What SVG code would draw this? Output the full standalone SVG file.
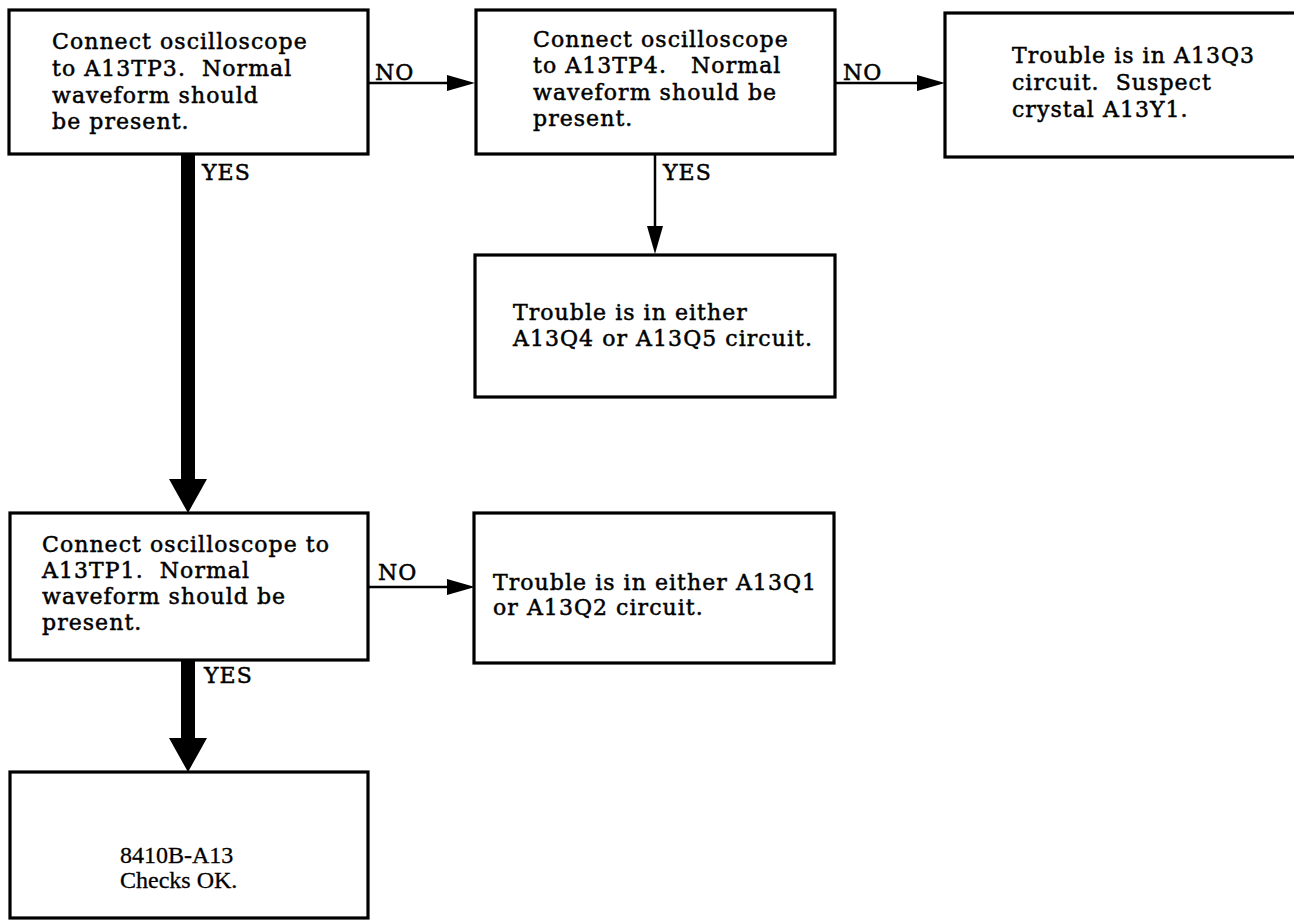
<svg xmlns="http://www.w3.org/2000/svg" width="1294" height="921" viewBox="0 0 1294 921">
<style>
.box{fill:#fff;stroke:#000;stroke-width:3.2}
.t{font-family:"DejaVu Serif","Liberation Serif",serif;font-size:22px;letter-spacing:1.05px;fill:#000;stroke:#000;stroke-width:0.5;white-space:pre}
.t2{font-family:"Liberation Serif","Times New Roman",serif;font-size:24px;fill:#000;stroke:#000;stroke-width:0.3}
.thin{stroke:#000;stroke-width:2.5;fill:none}
.thick{stroke:#000;stroke-width:14;fill:none}
.head{fill:#000}
</style>
<defs>
<marker id="ah" markerUnits="userSpaceOnUse" viewBox="0 0 28 16" refX="0" refY="8" markerWidth="28" markerHeight="16" orient="auto"><path class="head" d="M0,0 L28,8 L0,16 Z"/></marker>
<marker id="ahT" markerUnits="userSpaceOnUse" viewBox="0 0 34 38" refX="0" refY="19" markerWidth="34" markerHeight="38" orient="auto"><path class="head" d="M0,0 L34,19 L0,38 Z"/></marker>
</defs>
<g id="connectors">
<path class="thin" d="M368,83 H447" marker-end="url(#ah)"/>
<path class="thin" d="M835,83 H917" marker-end="url(#ah)"/>
<path class="thin" d="M655,154 V226" marker-end="url(#ah)"/>
<path class="thick" d="M188,154 V479" marker-end="url(#ahT)"/>
<path class="thin" d="M368,587 H447" marker-end="url(#ah)"/>
<path class="thick" d="M188,660 V738" marker-end="url(#ahT)"/>
<text class="t" x="375" y="80">NO</text>
<text class="t" x="843" y="80">NO</text>
<text class="t" x="202" y="180">YES</text>
<text class="t" x="663" y="180">YES</text>
<text class="t" x="378" y="580">NO</text>
<text class="t" x="204" y="683">YES</text>
</g>
<g id="n1">
<rect class="box" x="9" y="10" width="359" height="144"/>
<text class="t" x="52" y="49">Connect oscilloscope</text>
<text class="t" x="52" y="76">to A13TP3.  Normal</text>
<text class="t" x="52" y="103">waveform should</text>
<text class="t" x="52" y="129">be present.</text>
</g>
<g id="n2">
<rect class="box" x="476" y="10" width="359" height="144"/>
<text class="t" x="533" y="47">Connect oscilloscope</text>
<text class="t" x="533" y="73">to A13TP4.   Normal</text>
<text class="t" x="533" y="100">waveform should be</text>
<text class="t" x="533" y="126">present.</text>
</g>
<g id="n3">
<rect class="box" x="945" y="13" width="360" height="144"/>
<text class="t" x="1012" y="63">Trouble is in A13Q3</text>
<text class="t" x="1012" y="90">circuit.  Suspect</text>
<text class="t" x="1012" y="117">crystal A13Y1.</text>
</g>
<g id="n4">
<rect class="box" x="475" y="255" width="360" height="142"/>
<text class="t" x="513" y="320">Trouble is in either</text>
<text class="t" x="513" y="346">A13Q4 or A13Q5 circuit.</text>
</g>
<g id="n5">
<rect class="box" x="10" y="513" width="358" height="147"/>
<text class="t" x="42" y="552">Connect oscilloscope to</text>
<text class="t" x="42" y="578">A13TP1.  Normal</text>
<text class="t" x="42" y="604">waveform should be</text>
<text class="t" x="42" y="630">present.</text>
</g>
<g id="n6">
<rect class="box" x="474" y="513" width="360" height="150"/>
<text class="t" x="493" y="590">Trouble is in either A13Q1</text>
<text class="t" x="493" y="615">or A13Q2 circuit.</text>
</g>
<g id="n7">
<rect class="box" x="10" y="772" width="358" height="146"/>
<text class="t2" x="120" y="863">8410B-A13</text>
<text class="t2" x="120" y="888">Checks OK.</text>
</g>
</svg>
